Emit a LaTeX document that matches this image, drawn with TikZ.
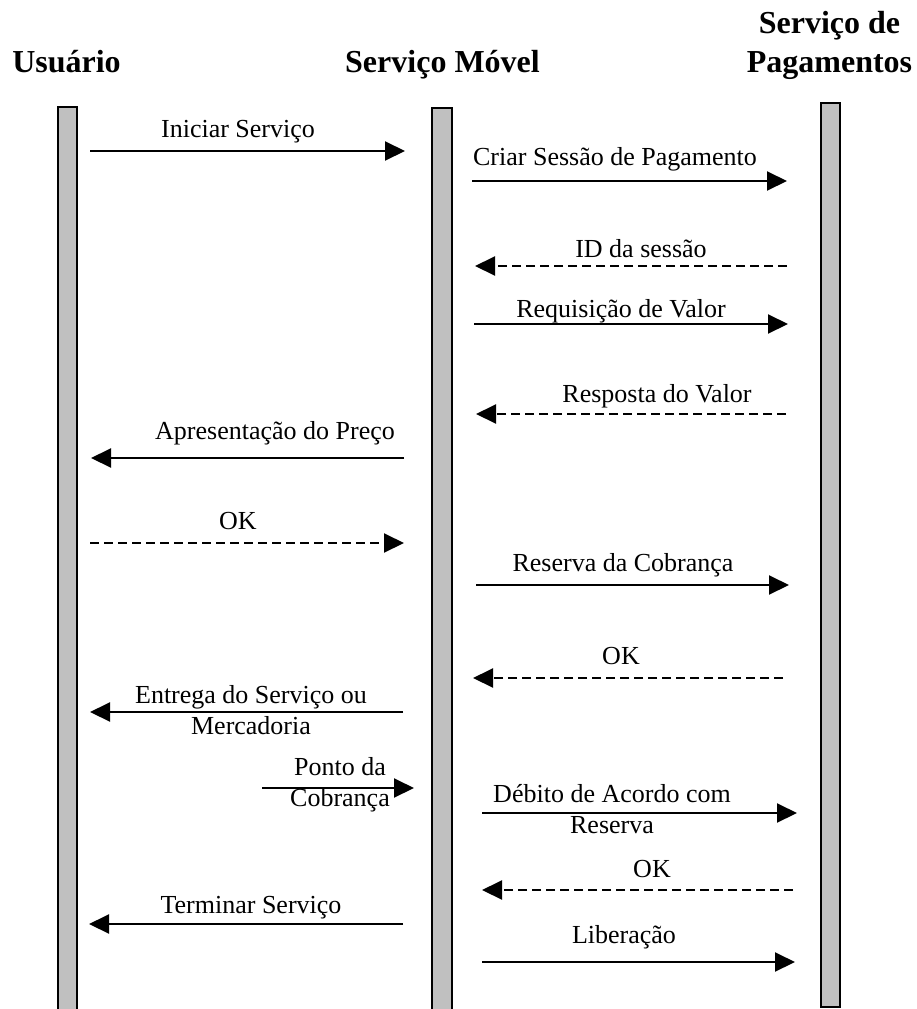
\documentclass[tikz,border=0pt]{standalone}
\usepackage{fontspec}
\setmainfont{Liberation Serif}
\usetikzlibrary{arrows.meta}
\definecolor{barfill}{HTML}{C0C0C0}
\begin{document}
\begin{tikzpicture}[x=1pt,y=-1pt,
  lifeline/.style={draw=black,fill=barfill,line width=1.6pt},
  msg/.style={line width=2pt,-{Triangle[length=20pt,width=19pt]}},
  reply/.style={msg,dash pattern=on 9pt off 5pt},
  lbl/.style={anchor=base,inner sep=0pt,font=\fontsize{26}{31}\selectfont},
  head/.style={anchor=base,inner sep=0pt,font=\fontsize{32}{39}\selectfont\bfseries}]
\useasboundingbox (0,0) rectangle (916,1009);

% participants
\node[head] (user) at (66.5,72) {Usuário};
\node[head] (mobile) at (442.5,72) {Serviço Móvel};
\node[head] (pay) at (829.5,33) {\begin{tabular}[t]{@{}c@{}}Serviço de\\Pagamentos\end{tabular}};

% lifelines
\draw[lifeline] (58,107) rectangle (77,1020);
\draw[lifeline] (432,108) rectangle (452,1020);
\draw[lifeline] (821,103) rectangle (840,1007);

% message end points
\coordinate (a1) at (90,151);   \coordinate (b1) at (405,151);
\coordinate (a2) at (472,181);  \coordinate (b2) at (787,181);
\coordinate (a3) at (787,266);  \coordinate (b3) at (475,266);
\coordinate (a4) at (474,324);  \coordinate (b4) at (788,324);
\coordinate (a5) at (786,414);  \coordinate (b5) at (476,414);
\coordinate (a6) at (404,458);  \coordinate (b6) at (91,458);
\coordinate (a7) at (90,543);   \coordinate (b7) at (404,543);
\coordinate (a8) at (476,585);  \coordinate (b8) at (789,585);
\coordinate (a9) at (783,678);  \coordinate (b9) at (473,678);
\coordinate (a10) at (403,712); \coordinate (b10) at (90,712);
\coordinate (a11) at (262,788); \coordinate (b11) at (414,788);
\coordinate (a12) at (482,813); \coordinate (b12) at (797,813);
\coordinate (a13) at (793,890); \coordinate (b13) at (482,890);
\coordinate (a14) at (403,924); \coordinate (b14) at (89,924);
\coordinate (a15) at (482,962); \coordinate (b15) at (795,962);

% messages
\draw[msg]   (a1) -- (b1);
\draw[msg]   (a2) -- (b2);
\draw[reply] (a3) -- (b3);
\draw[msg]   (a4) -- (b4);
\draw[reply] (a5) -- (b5);
\draw[msg]   (a6) -- (b6);
\draw[reply] (a7) -- (b7);
\draw[msg]   (a8) -- (b8);
\draw[reply] (a9) -- (b9);
\draw[msg]   (a10) -- (b10);
\draw[msg]   (a11) -- (b11);
\draw[msg]   (a12) -- (b12);
\draw[reply] (a13) -- (b13);
\draw[msg]   (a14) -- (b14);
\draw[msg]   (a15) -- (b15);

% message labels
\node[lbl] (l1) at (238,137) {Iniciar Serviço};
\node[lbl] (l2) at (615,165) {Criar Sessão de Pagamento};
\node[lbl] (l3) at (641,257) {ID da sessão};
\node[lbl] (l4) at (621,317) {Requisição de Valor};
\node[lbl] (l5) at (657,402) {Resposta do Valor};
\node[lbl] (l6) at (275,439) {Apresentação do Preço};
\node[lbl] (l7) at (238,529) {OK};
\node[lbl] (l8) at (623,571) {Reserva da Cobrança};
\node[lbl] (l9) at (621,664) {OK};
\node[lbl] (l10) at (251,703) {\begin{tabular}[t]{@{}c@{}}Entrega do Serviço ou\\Mercadoria\end{tabular}};
\node[lbl] (l11) at (340,775) {\begin{tabular}[t]{@{}c@{}}Ponto da\\Cobrança\end{tabular}};
\node[lbl] (l12) at (612,802) {\begin{tabular}[t]{@{}c@{}}Débito de Acordo com\\Reserva\end{tabular}};
\node[lbl] (l13) at (652,877) {OK};
\node[lbl] (l14) at (251,913) {Terminar Serviço};
\node[lbl] (l15) at (624,943) {Liberação};
\end{tikzpicture}
\end{document}
